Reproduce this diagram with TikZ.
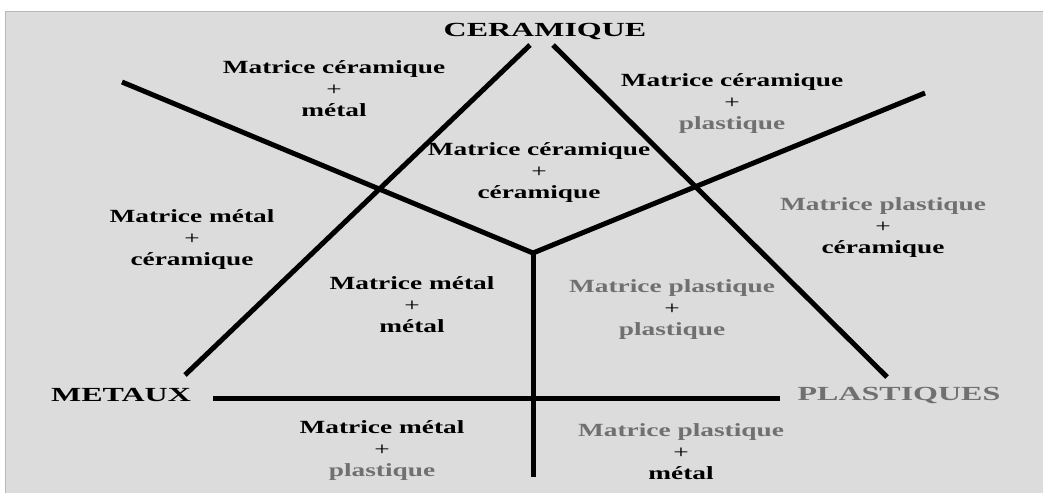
\documentclass[tikz,border=0pt]{standalone}
\usepackage{fontspec}
\setmainfont{Liberation Serif}
\definecolor{bg}{HTML}{DCDCDC}
\definecolor{txtgray}{HTML}{707070}
\definecolor{frame}{HTML}{B4B8C4}
\newcommand{\lx}[1]{\scalebox{1.47}[1]{#1}}
\newcommand{\tx}[1]{\scalebox{1.6}[1]{#1}}
\newcommand{\pl}{\textcolor{black}{\mdseries\lx{+}}}
\begin{document}
\begin{tikzpicture}[x=1pt,y=-1pt,
  lab/.style={font=\fontsize{18.6}{21.5}\selectfont\bfseries, inner sep=0pt, align=center},
  ttl/.style={font=\fontsize{20}{22}\selectfont\bfseries, inner sep=0pt},
  bar/.style={line width=5pt, line cap=butt}]
\useasboundingbox (0,0) rectangle (1043,493);
\fill[white] (0,0) rectangle (1043,493);
\fill[bg] (5,11) rectangle (1043,493);
\draw[frame, line width=1pt] (5.5,493) -- (5.5,11.5) -- (1043,11.5);
% end points
\coordinate (LT) at (530,45);
\coordinate (LB) at (185,375);
\coordinate (RT) at (553,45);
\coordinate (RB) at (887,377);
\coordinate (LS) at (122,82);
\coordinate (RS) at (925,93);
\coordinate (J) at (533,253);
\coordinate (VB) at (533,477);
\coordinate (HL) at (213,398);
\coordinate (HR) at (780,398);
\draw[bar] (LT) -- (LB);
\draw[bar] (RT) -- (RB);
\draw[bar] (LS) -- (J) -- (RS);
\draw[bar] (J) -- (VB);
\draw[bar] (HL) -- (HR);
% titles
\node[ttl] (cer) at (545,31) {\tx{CERAMIQUE}};
\node[ttl] (met) at (121,395) {\tx{METAUX}};
\node[ttl, text=txtgray] (pla) at (899,395) {\tx{PLASTIQUES}};
% labels
\node[lab] (tl) at (334,89) {\lx{Matrice céramique}\\\pl\\\lx{métal}};
\node[lab] (tr) at (732,104) {\lx{Matrice céramique}\\\pl\\\textcolor{txtgray}{\lx{plastique}}};
\node[lab] (cc) at (539,173) {\lx{Matrice céramique}\\\pl\\\lx{céramique}};
\node[lab] (lm) at (192,240) {\lx{Matrice métal}\\\pl\\\lx{céramique}};
\node[lab] (rm) at (883,228) {\textcolor{txtgray}{\lx{Matrice plastique}}\\\pl\\\lx{céramique}};
\node[lab] (cl) at (412,305) {\lx{Matrice métal}\\\pl\\\lx{métal}};
\node[lab, text=txtgray] (cr) at (672,310) {\lx{Matrice plastique}\\\pl\\\lx{plastique}};
\node[lab] (bl) at (382,451) {\lx{Matrice métal}\\\pl\\\textcolor{txtgray}{\lx{plastique}}};
\node[lab] (br) at (681,452) {\textcolor{txtgray}{\lx{Matrice plastique}}\\\pl\\\lx{métal}};
\end{tikzpicture}
\end{document}
